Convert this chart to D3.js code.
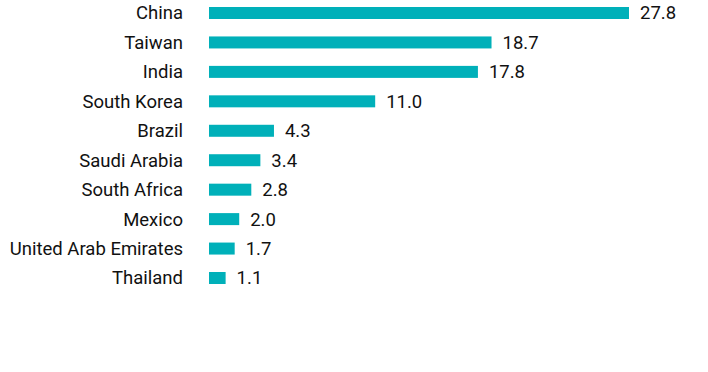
<!DOCTYPE html>
<html>
<head>
<meta charset="utf-8">
<script src="https://d3js.org/d3.v7.min.js"></script>
<style>
  body { margin: 0; background: #fff; }
  text { font-family: Roboto, "Noto Sans", sans-serif; font-size: 18.5px; fill: #111; }
</style>
</head>
<body>
<div id="chart"></div>
<script>
// Categories and values
var countries = ["China", "Taiwan", "India", "South Korea", "Brazil", "Saudi Arabia", "South Africa", "Mexico", "United Arab Emirates", "Thailand"];
var weights = [27.8, 18.7, 17.8, 11.0, 4.3, 3.4, 2.8, 2.0, 1.7, 1.1];

var width = 708, height = 372;
var barHeight = 12;

var svg = d3.select("#chart")
  .append("svg")
    .attr("width", width)
    .attr("height", height);

var x = d3.scaleLinear()
  .domain([0, 27.8])
  .range([209, 629]);

// centres of each row
var y = d3.scalePoint()
  .domain(countries)
  .range([13, 278]);

var data = countries.map(function(c, i) { return {name: c, value: weights[i]}; });

// bars
svg.selectAll("rect.bar")
  .data(data)
  .enter().append("rect")
    .attr("class", "bar")
    .attr("x", x(0))
    .attr("y", function(d) { return y(d.name) - barHeight / 2; })
    .attr("width", function(d) { return x(d.value) - x(0); })
    .attr("height", barHeight)
    .style("fill", "#00b0b9");

// category labels
svg.selectAll("text.cat")
  .data(data)
  .enter().append("text")
    .attr("class", "cat")
    .attr("x", 183)
    .attr("y", function(d) { return y(d.name); })
    .attr("dy", "0.35em")
    .style("text-anchor", "end")
    .text(function(d) { return d.name; });

// value labels
svg.selectAll("text.val")
  .data(data)
  .enter().append("text")
    .attr("class", "val")
    .attr("x", function(d) { return x(d.value) + 11; })
    .attr("y", function(d) { return y(d.name); })
    .attr("dy", "0.35em")
    .text(function(d) { return d.value.toFixed(1); });
</script>
</body>
</html>
